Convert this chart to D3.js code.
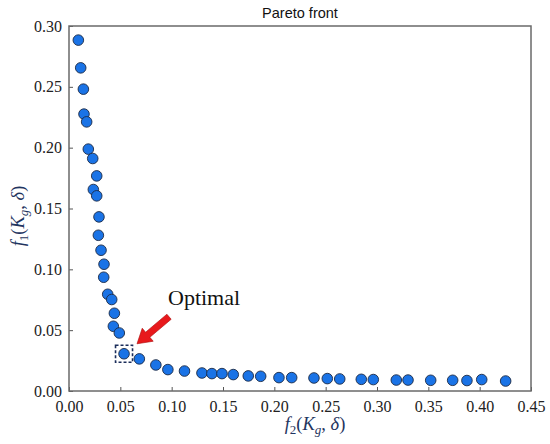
<!DOCTYPE html>
<html><head><meta charset="utf-8">
<script src="https://cdn.jsdelivr.net/npm/d3@7"></script>
<style>body{margin:0;background:#fff}svg{display:block}</style>
</head><body>
<svg id="c" width="550" height="444"></svg>
<script>
const f2Values = [0.0091,0.0114,0.0140,0.0146,0.0172,0.0188,0.0231,0.0270,0.0237,0.0270,0.0292,0.0286,0.0312,0.0341,0.0338,0.0377,0.0416,0.0442,0.0432,0.0490,0.0536,0.0685,0.0846,0.0963,0.1125,0.1295,0.1392,0.1490,0.1600,0.1746,0.1867,0.2045,0.2169,0.2386,0.2516,0.2637,0.2847,0.2964,0.3188,0.3302,0.3523,0.3737,0.3876,0.4020,0.4253];
const f1Values = [0.2884,0.2656,0.2481,0.2276,0.2212,0.1988,0.1911,0.1768,0.1656,0.1604,0.1431,0.1280,0.1157,0.1042,0.0935,0.0795,0.0752,0.0639,0.0532,0.0477,0.0306,0.0264,0.0214,0.0176,0.0164,0.0148,0.0143,0.0143,0.0135,0.0124,0.0121,0.0110,0.0110,0.0107,0.0102,0.0099,0.0096,0.0094,0.0090,0.0090,0.0088,0.0088,0.0086,0.0094,0.0082];
const xTicks = [0,0.05,0.10,0.15,0.20,0.25,0.30,0.35,0.40,0.45];
const yTicks = [0,0.05,0.10,0.15,0.20,0.25,0.30];
const optimalIndex = 20;
const titleText = "Pareto front";
const annotText = "Optimal";

const svg = d3.select("#c");
const L=69, R=531, T=26, B=391;
const x = d3.scaleLinear().domain([0,0.45]).range([L,R]);
const y = d3.scaleLinear().domain([0,0.30]).range([B,T]);
const serif = "'Liberation Serif','Times New Roman',serif";

// axes with inward ticks
const xa = svg.append("g").attr("transform",`translate(0,${B})`)
  .call(d3.axisBottom(x).tickValues(xTicks).tickFormat(d3.format(".2f")).tickSizeInner(-4).tickSizeOuter(0).tickPadding(9));
const ya = svg.append("g").attr("transform",`translate(${L},0)`)
  .call(d3.axisLeft(y).tickValues(yTicks).tickFormat(d3.format(".2f")).tickSizeInner(-4).tickSizeOuter(0).tickPadding(7));
[xa,ya].forEach(g=>{
  g.select(".domain").remove();
  g.selectAll("line").attr("stroke","#555").attr("stroke-width",1);
  g.selectAll("text").attr("font-family",serif).attr("font-size",16).attr("fill","#222");
});
xa.selectAll("text").attr("dy","0.75em");

// frame
svg.append("rect").attr("x",L).attr("y",T).attr("width",R-L).attr("height",B-T)
  .attr("fill","none").attr("stroke","#6a6a6a").attr("stroke-width",1.5);

// title
svg.append("text").attr("x",(L+R)/2).attr("y",18).attr("text-anchor","middle")
  .attr("font-family","'Liberation Sans',Arial,sans-serif").attr("font-size",14.5).attr("fill","#111").text(titleText);

// points
svg.append("g").selectAll("circle").data(f2Values.map((v,i)=>[v,f1Values[i]])).join("circle")
  .attr("cx",d=>x(d[0])).attr("cy",d=>y(d[1])).attr("r",5.3)
  .attr("fill","#1a73e6").attr("stroke","#1c2a45").attr("stroke-width",0.9);

// optimal box
const ox = x(f2Values[optimalIndex]), oy = y(f1Values[optimalIndex]);
svg.append("rect").attr("x",ox-8.5).attr("y",oy-8.5).attr("width",17).attr("height",17)
  .attr("fill","none").attr("stroke","#1b2d5a").attr("stroke-width",1.6).attr("stroke-dasharray","3,2");

// arrow
const ax0 = ox+45, ay0 = oy-37, ax1 = ox+13, ay1 = oy-10;
const ang = Math.atan2(ay1-ay0, ax1-ax0);
const len = Math.hypot(ax1-ax0, ay1-ay0);
const hl = 14, hw = 8.5, sw = 3.3;
const g = svg.append("g").attr("transform",`translate(${ax0},${ay0}) rotate(${ang*180/Math.PI})`);
g.append("path").attr("d",`M0,${-sw} L${len-hl},${-sw} L${len-hl},${-hw} L${len},0 L${len-hl},${hw} L${len-hl},${sw} L0,${sw} Z`)
  .attr("fill","#e8191c").attr("stroke","#b01010").attr("stroke-width",0.6);

// annotation text
svg.append("text").attr("x",168).attr("y",305).attr("font-family",serif).attr("font-size",22).attr("fill","#111").text(annotText);

// x label
const navy = "#1f3560";
const xl = svg.append("text").attr("x",315).attr("y",430).attr("text-anchor","middle")
  .attr("font-family",serif).attr("font-size",18.5).attr("fill",navy);
function fill(t, sub){
  t.append("tspan").attr("font-style","italic").text("f");
  t.append("tspan").attr("font-size",13).attr("dy",4).text(sub);
  t.append("tspan").attr("dy",-4).text("(");
  t.append("tspan").attr("font-style","italic").text("K");
  t.append("tspan").attr("font-style","italic").attr("font-size",13).attr("dy",4).text("g");
  t.append("tspan").attr("dy",-4).text(", ");
  t.append("tspan").attr("font-style","italic").text("δ");
  t.append("tspan").text(")");
}
fill(xl,"2");
const yl = svg.append("text").attr("transform","translate(24,216) rotate(-90)").attr("text-anchor","middle")
  .attr("font-family",serif).attr("font-size",18.5).attr("fill",navy);
fill(yl,"1");
</script>
</body></html>
